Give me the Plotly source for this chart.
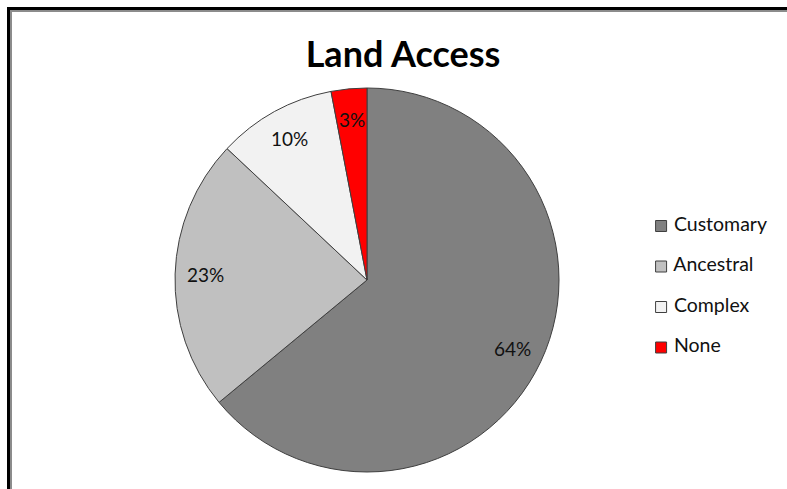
import math
import plotly.graph_objects as go

# ---- data ----
categories = ["Customary", "Ancestral", "Complex", "None"]
values = [64, 23, 10, 3]
colors = ["#808080", "#C0C0C0", "#F2F2F2", "#FF0000"]
title_text = "Land Access"

# ---- layout geometry (pixels) ----
W, H = 787, 489
cx, cy, R = 367, 280, 192
LABEL_R = 0.84

fig = go.Figure()

fig.add_trace(go.Pie(
    labels=categories,
    values=values,
    sort=False,
    direction="clockwise",
    rotation=0,
    marker=dict(colors=colors, line=dict(color="#3f3f3f", width=1)),
    textinfo="none",
    showlegend=False,
    hoverinfo="label+percent",
    domain=dict(x=[(cx - R) / W, (cx + R) / W], y=[(H - cy - R) / H, (H - cy + R) / H]),
))

# percentage labels placed at slice mid-angles derived from the values
total = sum(values)
annotations = []
cum = 0
for v in values:
    theta = 2 * math.pi * (cum + v / 2) / total
    cum += v
    px = cx + LABEL_R * R * math.sin(theta)
    py = cy - LABEL_R * R * math.cos(theta)
    annotations.append(dict(
        x=px / W, y=1 - py / H, xref="paper", yref="paper",
        text=f"{round(100 * v / total)}%", showarrow=False,
        font=dict(family="Lato", size=19, color="#111111"),
        xanchor="center", yanchor="middle",
    ))

# legend drawn as a scatter on hidden axes
idx = list(range(len(categories)))
fig.add_trace(go.Scatter(
    x=[0.2] * len(categories), y=idx,
    mode="markers+text",
    marker=dict(symbol="square", size=11, color=colors, line=dict(color="#3f3f3f", width=1)),
    text=["\u00a0" + c for c in categories], textposition="middle right",
    textfont=dict(family="Lato", size=19.5, color="#111111"),
    showlegend=False, hoverinfo="skip", cliponaxis=False,
    xaxis="x", yaxis="y",
))

step = 40.5
top_px = 226
fig.update_layout(
    width=W, height=H,
    margin=dict(l=0, r=0, t=0, b=0),
    paper_bgcolor="white", plot_bgcolor="rgba(0,0,0,0)",
    title=dict(text=title_text, x=403 / W, y=1 - 54 / H, xanchor="center", yanchor="middle",
               font=dict(family="Lato", size=36, weight="bold", color="black")),
    xaxis=dict(domain=[0.8, 1.0], range=[0, 1], visible=False, fixedrange=True),
    yaxis=dict(domain=[0, 1], range=[(H - top_px) / step, -top_px / step], visible=False, fixedrange=True),
    annotations=annotations,
    shapes=[
        dict(type="line", xref="paper", yref="paper", x0=8.5 / W, x1=8.5 / W, y0=1 - 7 / H, y1=-0.1,
             line=dict(color="black", width=3)),
        dict(type="line", xref="paper", yref="paper", x0=7 / W, x1=1.1, y0=1 - 8.5 / H, y1=1 - 8.5 / H,
             line=dict(color="black", width=3)),
        dict(type="line", xref="paper", yref="paper", x0=11 / W, x1=11 / W, y0=1 - 10 / H, y1=-0.1,
             line=dict(color="#8c8c8c", width=2)),
        dict(type="line", xref="paper", yref="paper", x0=10 / W, x1=1.1, y0=1 - 11 / H, y1=1 - 11 / H,
             line=dict(color="#8c8c8c", width=2)),
    ],
)

fig.write_html("out.html", config={"displayModeBar": False})

# remove the default page margin/scrollbars so the figure fills the window exactly
with open("out.html", encoding="utf-8") as f:
    html = f.read()
style = "<style>html,body{margin:0;padding:0;overflow:hidden;background:#fff}</style>"
if "</head>" in html:
    html = html.replace("</head>", style + "</head>", 1)
else:
    html = html.replace("<body>", style + "<body>", 1)
with open("out.html", "w", encoding="utf-8") as f:
    f.write(html)
